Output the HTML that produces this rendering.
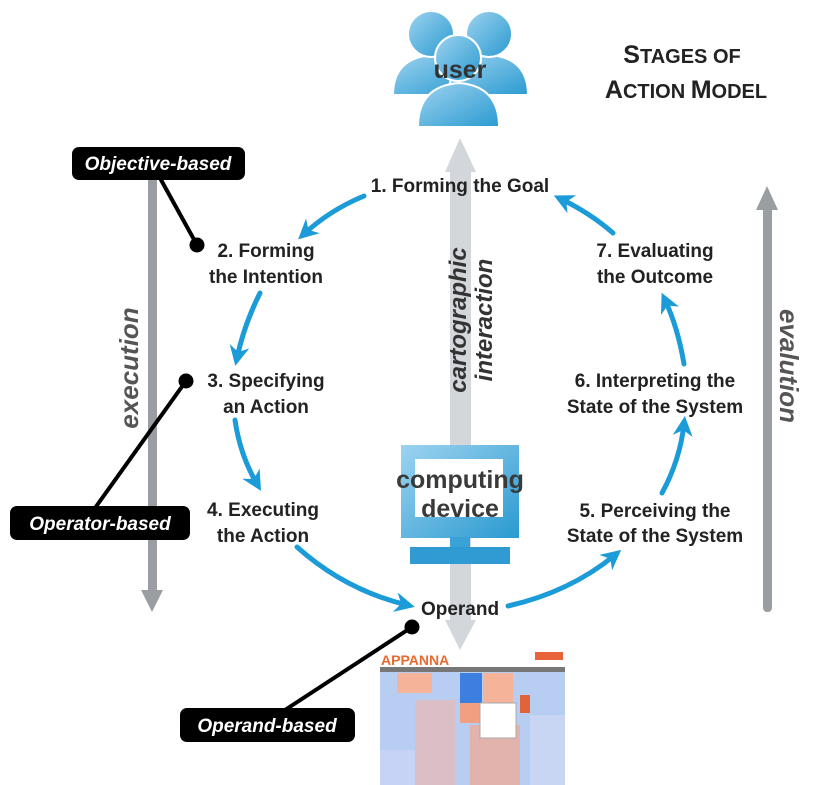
<!DOCTYPE html>
<html><head><meta charset="utf-8"><style>
body{margin:0;background:#fff;width:813px;height:785px;overflow:hidden}
svg{display:block}
text{font-family:"Liberation Sans",sans-serif}
</style></head><body>
<svg width="813" height="785" viewBox="0 0 813 785" xmlns="http://www.w3.org/2000/svg">
<defs>
<linearGradient id="bl" x1="0" y1="0" x2="1" y2="1"><stop offset="0" stop-color="#9dd3f0"/><stop offset="1" stop-color="#2a9ad0"/></linearGradient>
<marker id="ah" viewBox="0 0 10 10" refX="6" refY="5" markerWidth="4" markerHeight="4" orient="auto"><path d="M0,0 L10,5 L0,10 L3,5z" fill="#1b9bd7"/></marker>
</defs>
<!-- user icon -->
<g stroke="#fff" stroke-width="2" fill="url(#bl)">
<path d="M393,95 Q393,58 432,55 Q470,58 472,95 Z"/><circle cx="431" cy="34" r="23"/>
<path d="M448,95 Q450,58 490,55 Q528,58 528,95 Z"/><circle cx="489" cy="34" r="23"/>
<path d="M418,127 Q418,86 459,83 Q499,86 499,127 Z"/><circle cx="458" cy="58" r="23"/>
</g>
<text x="460" y="78" font-size="25" font-weight="bold" fill="#333" text-anchor="middle">user</text>
<!-- title -->
<text x="682" y="63" font-size="25" font-weight="bold" fill="#222" text-anchor="middle">S<tspan font-size="20">TAGES OF</tspan></text>
<text x="686" y="98" font-size="25" font-weight="bold" fill="#222" text-anchor="middle">A<tspan font-size="20">CTION </tspan>M<tspan font-size="20">ODEL</tspan></text>
<!-- center arrow -->
<rect x="450" y="170" width="21" height="455" fill="#d3d7db"/>
<path d="M460,138 L476,172 L445,172Z" fill="#d3d7db"/>
<path d="M460,650 L476,620 L445,620Z" fill="#d3d7db"/>
<text transform="translate(466,320) rotate(-90)" font-size="24" font-weight="bold" font-style="italic" fill="#333" text-anchor="middle">cartographic<tspan x="0" dy="26">interaction</tspan></text>
<!-- side arrows -->
<rect x="148" y="160" width="9" height="438" rx="4" fill="#9a9da1"/>
<path d="M152,612 L163,590 L141,590Z" fill="#9a9da1"/>
<rect x="763" y="200" width="9" height="412" rx="4" fill="#9a9da1"/>
<path d="M767,186 L778,210 L756,210Z" fill="#9a9da1"/>
<text transform="translate(138,368) rotate(-90)" font-size="26" font-weight="bold" font-style="italic" fill="#555" text-anchor="middle">execution</text>
<text transform="translate(780,366) rotate(90)" font-size="26" font-weight="bold" font-style="italic" fill="#555" text-anchor="middle">evalution</text>
<!-- monitor -->
<rect x="401" y="445" width="118" height="93" fill="url(#bl)"/>
<rect x="415" y="459" width="88" height="58" fill="#fff"/>
<rect x="450" y="537" width="20" height="12" fill="#3aa2d6"/>
<rect x="410" y="547" width="100" height="17" fill="#2f9bd2"/>
<text x="460" y="488" font-size="25" font-weight="bold" fill="#3a3a3a" text-anchor="middle">computing</text>
<text x="460" y="517" font-size="25" font-weight="bold" fill="#3a3a3a" text-anchor="middle">device</text>
<!-- blue arrows -->
<g fill="none" stroke="#1b9bd7" stroke-width="5" stroke-linecap="round" marker-end="url(#ah)">
<path d="M364,196 Q330,210 304,234"/>
<path d="M260,293 Q244,325 237,358"/>
<path d="M235,420 Q240,455 257,484"/>
<path d="M297,547 Q345,590 407,605"/>
<path d="M508,606 Q570,592 615,555"/>
<path d="M662,493 Q680,460 684,424"/>
<path d="M684,364 Q678,328 665,300"/>
<path d="M613,233 Q590,213 561,199"/>
</g>
<!-- labels -->
<g font-size="19" font-weight="bold" fill="#222" text-anchor="middle">
<text x="460" y="192">1. Forming the Goal</text>
<text x="266" y="257">2. Forming</text><text x="266" y="283">the Intention</text>
<text x="266" y="387">3. Specifying</text><text x="266" y="413">an Action</text>
<text x="263" y="516">4. Executing</text><text x="263" y="542">the Action</text>
<text x="460" y="615">Operand</text>
<text x="655" y="517">5. Perceiving the</text><text x="655" y="542">State of the System</text>
<text x="655" y="387">6. Interpreting the</text><text x="655" y="413">State of the System</text>
<text x="655" y="257">7. Evaluating</text><text x="655" y="283">the Outcome</text>
</g>
<!-- treemap -->
<g>
<rect x="380" y="650" width="185" height="135" fill="#b8cdf2"/>
<rect x="380" y="650" width="185" height="20" fill="#fff"/>
<text x="381" y="665" font-size="14" font-weight="bold" fill="#e86a30">APPANNA</text>
<rect x="535" y="652" width="28" height="8" fill="#e8633a"/>
<rect x="380" y="667" width="185" height="5" fill="#777"/>
<rect x="397" y="673" width="35" height="20" fill="#f5b49a"/>
<rect x="460" y="673" width="22" height="30" fill="#3d7fe0"/>
<rect x="483" y="673" width="18" height="30" fill="#f5b49a"/>
<rect x="501" y="673" width="12" height="30" fill="#f5b49a"/>
<rect x="460" y="703" width="22" height="20" fill="#f0a080"/>
<rect x="520" y="695" width="10" height="18" fill="#e0643a"/>
<rect x="415" y="700" width="40" height="85" fill="#f0b8a8" opacity=".6"/>
<rect x="470" y="725" width="50" height="60" fill="#f3a88e" opacity=".7"/>
<rect x="530" y="715" width="35" height="70" fill="#c8d6f4"/>
<rect x="480" y="703" width="36" height="35" fill="#fff" stroke="#aaa"/>
<rect x="380" y="750" width="35" height="35" fill="#c7d3f5"/>
</g>
<!-- tags -->
<g stroke="#000" stroke-width="4" fill="none">
<line x1="160" y1="178" x2="197" y2="245"/>
<line x1="186" y1="381" x2="95" y2="508"/>
<line x1="412" y1="627" x2="285" y2="710"/>
</g>
<circle cx="197" cy="245" r="7.5" fill="#000"/>
<circle cx="186" cy="381" r="7.5" fill="#000"/>
<circle cx="412" cy="627" r="7.5" fill="#000"/>
<rect x="72" y="147" width="173" height="33" rx="7" fill="#000"/>
<rect x="10" y="506" width="180" height="34" rx="7" fill="#000"/>
<rect x="180" y="708" width="175" height="34" rx="7" fill="#000"/>
<g font-size="19" font-weight="bold" font-style="italic" fill="#fff" text-anchor="middle">
<text x="158" y="170">Objective-based</text>
<text x="100" y="530">Operator-based</text>
<text x="267" y="732">Operand-based</text>
</g>
</svg>
</body></html>
